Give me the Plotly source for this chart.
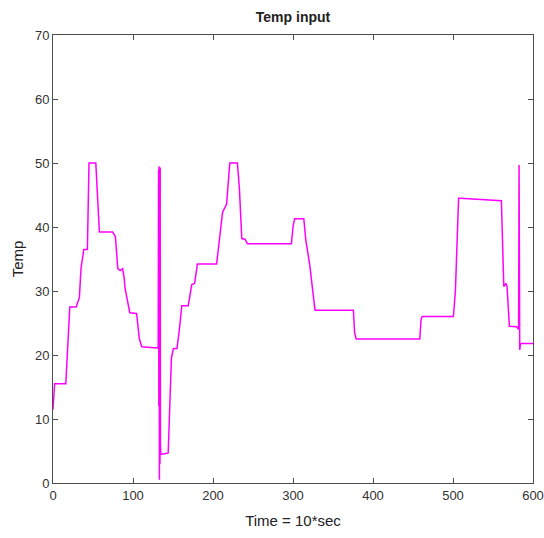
import plotly.graph_objects as go

# Time (x10 sec) and temperature readings
time = [0, 1, 2, 16, 18, 21, 29, 33, 35, 38.5,
        43, 45, 53.5, 56, 58, 74.5, 78, 81, 84, 87,
        89, 90, 96, 104.5, 108, 111, 120, 130.5, 131.5, 132,
        132.3, 132.6, 133, 133.3, 133.7, 134, 134.3, 134.8, 136, 144,
        146, 148, 150.5, 155, 158, 161, 169, 171, 173.5, 177,
        178.5, 180.5, 204.5, 206, 208, 212, 217, 219, 221, 230.5,
        233, 236, 240, 243, 298, 300, 302, 313.5, 316, 321,
        325, 327.5, 375.5, 377, 379, 458.5, 460, 461.5, 500.5, 503,
        507, 509, 560.5, 562, 563.5, 566, 567.5, 570.5, 579.5, 582,
        582.6, 583.4, 584.5, 600]
temp = [11.5, 13.5, 15.5, 15.5, 20, 27.5, 27.5, 29, 33.5, 36.5,
        36.5, 50, 50, 44, 39.2, 39.2, 38.5, 33.5, 33.2, 33.5,
        32, 30.5, 26.6, 26.5, 22.5, 21.3, 21.2, 21.1, 21.2, 49,
        12, 49.5, 0.5, 48, 3, 49.3, 6, 4.5, 4.5, 4.7,
        12, 19.5, 21, 21, 24, 27.7, 27.7, 29.5, 31, 31.2,
        32.5, 34.2, 34.2, 36, 38.2, 42.3, 43.6, 47, 50, 50,
        46, 38.2, 38.1, 37.4, 37.4, 40, 41.3, 41.3, 38, 34,
        29.5, 27, 27, 23.5, 22.5, 22.5, 25.5, 26, 26, 30,
        44.5, 44.5, 44.1, 36, 30.7, 31.2, 30.8, 24.5, 24.4, 24,
        49.7, 20.8, 21.8, 21.8]

x_ticks = [0, 100, 200, 300, 400, 500, 600]
y_ticks = [0, 10, 20, 30, 40, 50, 60, 70]

axis_color = "#4d4d4d"
font_family = "Liberation Sans, Arial, sans-serif"

fig = go.Figure()
fig.add_trace(go.Scatter(x=time, y=temp, mode="lines",
                         line=dict(color="#ff00ff", width=1.5), showlegend=False))

common = dict(showline=True, linecolor=axis_color, linewidth=1, mirror="allticks",
              ticks="inside", ticklen=5, tickcolor=axis_color, showgrid=False, zeroline=False,
              automargin=False,
              tickfont=dict(family=font_family, size=13, color="#333333"))

fig.update_layout(
    width=544, height=538,
    margin=dict(l=53, r=11, t=35, b=55, autoexpand=False),
    paper_bgcolor="white", plot_bgcolor="white",
    title=dict(text="<b>Temp input</b>", x=0.5, xanchor="center", xref="paper",
               y=0.968, yref="container", yanchor="middle", automargin=False,
               font=dict(family=font_family, size=14, color="#222222")),
    xaxis=dict(range=[0, 600], tickvals=x_ticks, ticktext=[str(v) for v in x_ticks],
               title=dict(text="Time = 10*sec", standoff=13,
                          font=dict(family=font_family, size=15, color="#222222")), **common),
    yaxis=dict(range=[0, 70], tickvals=y_ticks, ticktext=[str(v) for v in y_ticks],
               title=dict(text="Temp", standoff=7,
                          font=dict(family=font_family, size=15, color="#222222")), **common),
)

fig.write_html("out.html", config={"displayModeBar": False},
               post_script="document.body.style.margin='0';document.body.style.overflow='hidden';")
